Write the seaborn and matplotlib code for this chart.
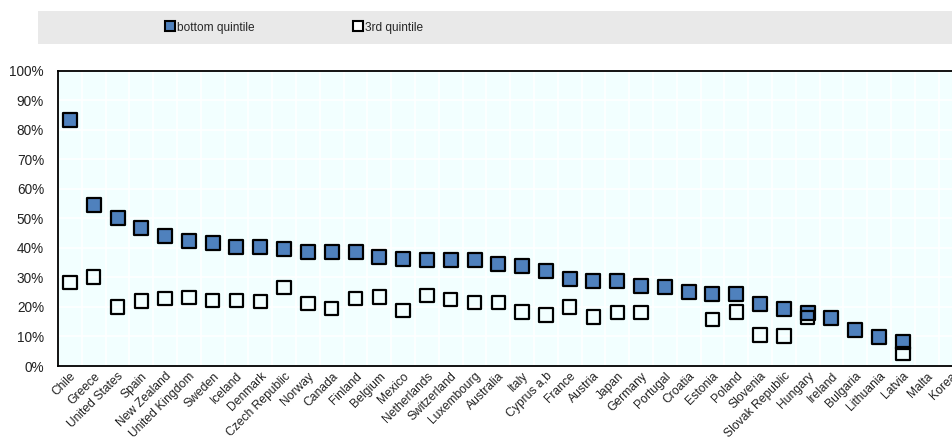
import numpy as np
import pandas as pd
import matplotlib
matplotlib.use("Agg")
import matplotlib.pyplot as plt
from matplotlib.lines import Line2D
from matplotlib.patches import Rectangle
from matplotlib.ticker import PercentFormatter, FixedLocator
import seaborn as sns

countries = ["Chile", "Greece", "United States", "Spain", "New Zealand", "United Kingdom",
             "Sweden", "Iceland", "Denmark", "Czech Republic", "Norway", "Canada", "Finland",
             "Belgium", "Mexico", "Netherlands", "Switzerland", "Luxembourg", "Australia",
             "Italy", "Cyprus a,b", "France", "Austria", "Japan", "Germany", "Portugal",
             "Croatia", "Estonia", "Poland", "Slovenia", "Slovak Republic", "Hungary",
             "Ireland", "Bulgaria", "Lithuania", "Latvia", "Malta", "Korea"]

bottom_quintile = [83.3, 54.6, 50.2, 46.8, 44.0, 42.3, 41.6, 40.2, 40.2, 39.5, 38.5, 38.5,
                   38.5, 36.8, 36.1, 35.8, 35.8, 35.8, 34.4, 34.0, 32.1, 29.6, 28.9, 28.9,
                   27.2, 26.9, 24.9, 24.5, 24.5, 21.0, 19.4, 18.0, 16.1, 12.2, 9.8, 8.1,
                   np.nan, np.nan]

third_quintile = [28.3, 30.1, 20.0, 22.0, 22.8, 23.2, 22.2, 22.2, 21.9, 26.6, 21.2, 19.5,
                  22.8, 23.3, 18.8, 23.9, 22.5, 21.5, 21.5, 18.3, 17.3, 20.0, 16.6, 18.0,
                  18.0, np.nan, np.nan, 15.7, 18.3, 10.5, 10.2, 16.5, np.nan, np.nan, np.nan,
                  4.3, np.nan, np.nan]

series_names = ["bottom quintile", "3rd quintile"]

df = pd.DataFrame({
    "country": countries * 2,
    "value": bottom_quintile + third_quintile,
    "series": [series_names[0]] * len(countries) + [series_names[1]] * len(countries),
})

sns.set_style("white")
plt.rcParams["font.family"] = ["Liberation Sans", "DejaVu Sans"]

W, H = 952, 441
fig = plt.figure(figsize=(W / 100, H / 100), dpi=100)
n = len(countries)
left_px, right_px = 58, 58 + 23.8 * n
top_px, bot_px = 70.5, 366
ax = fig.add_axes([left_px / W, (H - bot_px) / H, (right_px - left_px) / W, (bot_px - top_px) / H])
ax.set_facecolor("#F2FFFF")

blue = "#4F81BD"
d1 = df[df.series == series_names[0]]
d2 = df[df.series == series_names[1]]
sns.scatterplot(data=d1, x="country", y="value", marker="s", s=92, color=blue,
                edgecolor="black", linewidth=1.6, ax=ax, zorder=3, legend=False)
sns.scatterplot(data=d2, x="country", y="value", marker="s", s=92, facecolor="none",
                edgecolor="black", linewidth=1.6, ax=ax, zorder=4, legend=False)

ax.set_xlim(-0.5, n - 0.5)
ax.set_ylim(0, 100)
ax.set_xlabel("")
ax.set_ylabel("")
ax.yaxis.set_major_locator(FixedLocator(np.arange(0, 101, 10)))
ax.yaxis.set_major_formatter(PercentFormatter(decimals=0))
ax.set_xticks(np.arange(n))
ax.set_xticklabels(countries, rotation=45, ha="right", rotation_mode="anchor")
ax.set_xticks(np.arange(n) - 0.5, minor=True)
ax.tick_params(axis="x", which="major", length=0, pad=3, labelsize=8.7, labelcolor="#222222")
ax.tick_params(axis="x", which="minor", length=4, width=1.2, direction="in", color="black")
ax.tick_params(axis="y", which="major", length=4, width=1.2, direction="in", labelsize=9.8,
               labelcolor="#222222", pad=10)
ax.grid(True, axis="y", which="major", color="white", linewidth=1.2)
ax.grid(True, axis="x", which="minor", color="white", linewidth=1.2)
ax.grid(False, axis="x", which="major")
ax.set_axisbelow(True)
for sp in ax.spines.values():
    sp.set_visible(True)
    sp.set_color("black")
    sp.set_linewidth(1.3)

# legend band
fig.patches.append(Rectangle((38 / W, (H - 44) / H), 1 - 38 / W, 33 / H, transform=fig.transFigure,
                             facecolor="#E9E9E9", edgecolor="none", zorder=0))
face_colors = [blue, "white"]
legend_x = [165, 353]
for name, fc, lx in zip(series_names, face_colors, legend_x):
    h = Line2D([], [], marker="s", linestyle="none", markersize=6.5, markerfacecolor=fc,
               markeredgecolor="black", markeredgewidth=1.5)
    fig.legend([h], [name], loc="center left", bbox_to_anchor=(lx / W, (H - 27.5) / H),
               frameon=False, handlelength=0.8, handletextpad=0.2, borderaxespad=0,
               borderpad=0, prop={"family": ["Liberation Sans Narrow", "Liberation Sans"], "size": 8.6})

fig.savefig("out.png", dpi=100)
